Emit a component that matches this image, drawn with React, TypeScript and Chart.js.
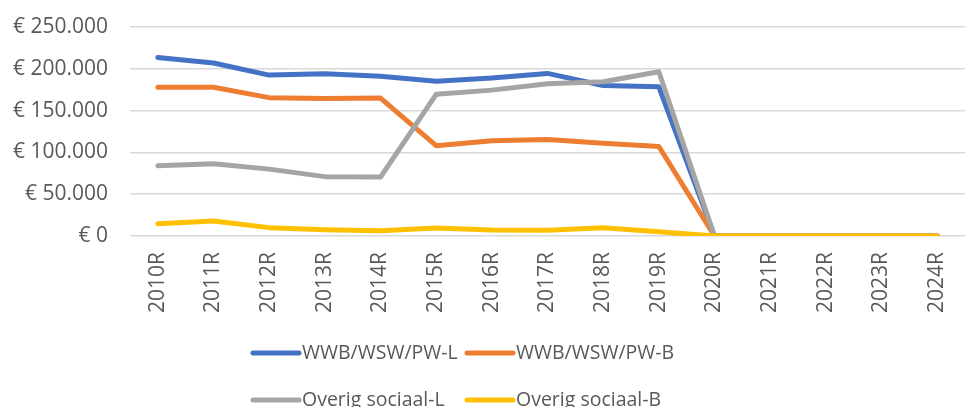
import React, { useEffect, useRef } from "react";
import { Chart, registerables } from "chart.js";

Chart.register(...registerables);

const categories = ["2010R","2011R","2012R","2013R","2014R","2015R","2016R","2017R","2018R","2019R","2020R","2021R","2022R","2023R","2024R"];
const wwbL = [213500, 207000, 192500, 194000, 191000, 185000, 189000, 194500, 180000, 178500, 0, 0, 0, 0, 0];
const wwbB = [178000, 178000, 165500, 164500, 165000, 108000, 114000, 115500, 111000, 107000, 0, 0, 0, 0, 0];
const overigL = [84000, 86500, 80000, 71000, 70500, 169500, 174500, 182000, 184500, 196500, 0, 0, 0, 0, 0];
const overigB = [14700, 18000, 10000, 7500, 6300, 9600, 7200, 7000, 10000, 5000, 0, 0, 0, 0, 0];
const seriesNames = ["WWB/WSW/PW-L", "WWB/WSW/PW-B", "Overig sociaal-L", "Overig sociaal-B"];
const seriesColors = ["#4472C4", "#ED7D31", "#A5A5A5", "#FFC000"];
const yTicks = [0, 50000, 100000, 150000, 200000, 250000];

const TEXT = "#595959";

const gridLegend = {
  id: "gridLegend",
  afterDraw(chart: any) {
    const ctx = chart.ctx;
    const xs = chart.scales.x;
    const top = xs.bottom;
    ctx.save();
    ctx.font = "19.5px 'Open Sans'";
    ctx.textBaseline = "middle";
    ctx.textAlign = "left";
    chart.data.datasets.forEach((ds: any, i: number) => {
      const col = i % 2;
      const row = Math.floor(i / 2);
      const x0 = 245 + col * 214;
      const y = top + 40 + row * 47;
      ctx.strokeStyle = ds.borderColor;
      ctx.lineWidth = 5;
      ctx.lineCap = "round";
      ctx.beginPath();
      ctx.moveTo(x0, y);
      ctx.lineTo(x0 + 46, y);
      ctx.stroke();
      ctx.fillStyle = TEXT;
      ctx.fillText(ds.label, x0 + 49, y);
    });
    ctx.restore();
  },
};

function fmtEuro(v: number) {
  return "€ " + Math.round(v).toString().replace(/\B(?=(\d{3})+(?!\d))/g, ".");
}

export default function App() {
  const ref = useRef<HTMLCanvasElement>(null);
  useEffect(() => {
    if (!ref.current) return;
    const series = [wwbL, wwbB, overigL, overigB];
    const chart = new Chart(ref.current, {
      type: "line",
      data: {
        labels: categories,
        datasets: series.map((d, i) => ({
          label: seriesNames[i],
          data: d,
          order: series.length - i,
          borderColor: seriesColors[i],
          backgroundColor: seriesColors[i],
          borderWidth: 5,
          borderCapStyle: "round",
          borderJoinStyle: "round",
          pointRadius: 0,
          tension: 0,
          fill: false,
        })),
      },
      options: {
        animation: false,
        responsive: true,
        maintainAspectRatio: false,
        layout: { padding: { top: 19, right: 7, bottom: 125, left: 0 } },
        plugins: {
          legend: { display: false },
          tooltip: { enabled: false },
        },
        scales: {
          x: {
            offset: true,
            grid: { display: false, drawTicks: false },
            border: { display: false },
            afterFit(scale: any) {
              scale.height = 77;
              scale.paddingLeft = 0;
              scale.paddingRight = 0;
            },
            ticks: {
              minRotation: 90,
              maxRotation: 90,
              padding: 16,
              color: TEXT,
              font: { family: "'Open Sans'", size: 21 },
              autoSkip: false,
            },
          },
          y: {
            min: 0,
            max: 250000,
            afterBuildTicks(scale: any) {
              scale.ticks = yTicks.map((v) => ({ value: v }));
            },
            afterFit(scale: any) {
              scale.width = 122;
              scale.paddingTop = 0;
              scale.paddingBottom = 0;
            },
            grid: { color: "#D9D9D9", lineWidth: 1.5, drawTicks: false },
            border: { display: false },
            ticks: {
              padding: 22,
              color: TEXT,
              font: { family: "'Open Sans'", size: 21 },
              callback: (v: any) => fmtEuro(Number(v)),
            },
          },
        },
      },
      plugins: [gridLegend],
    });
    return () => chart.destroy();
  }, []);
  return (
    <div style={{ width: 964, height: 430, position: "relative" }}>
      <canvas ref={ref} />
    </div>
  );
}
